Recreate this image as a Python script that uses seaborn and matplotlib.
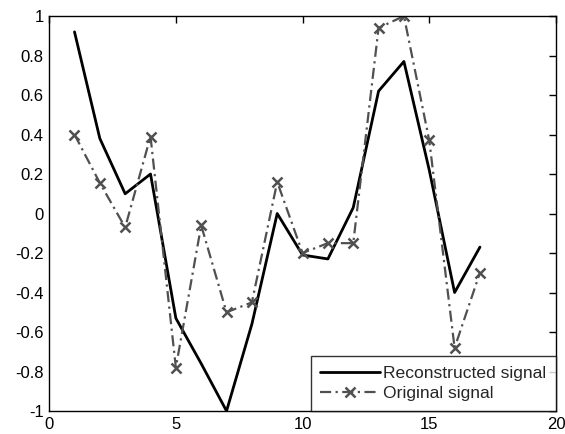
import numpy as np
import pandas as pd
import matplotlib
matplotlib.use("Agg")
import matplotlib.pyplot as plt
import seaborn as sns

# Data
samples = list(range(1, 18))
reconstructed = [0.92, 0.38, 0.10, 0.20, -0.53, -0.76, -1.00, -0.56, 0.00,
                 -0.21, -0.23, 0.03, 0.62, 0.77, 0.22, -0.40, -0.17]
original = [0.40, 0.155, -0.07, 0.39, -0.78, -0.06, -0.50, -0.45, 0.16,
            -0.20, -0.15, -0.15, 0.94, 1.00, 0.37, -0.68, -0.30]

x_ticks = [0, 5, 10, 15, 20]
y_ticks = [-1, -0.8, -0.6, -0.4, -0.2, 0, 0.2, 0.4, 0.6, 0.8, 1]
y_labels = ["-1", "-0.8", "-0.6", "-0.4", "-0.2", "0", "0.2", "0.4", "0.6", "0.8", "1"]

sns.set_style("white")
plt.rcParams["font.family"] = ["Liberation Sans", "DejaVu Sans"]

fig = plt.figure(figsize=(5.65, 4.34), dpi=100)
ax = fig.add_axes([0.087, 0.053, 0.897, 0.91])

sns.lineplot(x=samples, y=reconstructed, color="black", lw=2.0,
             label="Reconstructed signal", ax=ax)
sns.lineplot(x=samples, y=original, color="#505050", lw=1.6,
             linestyle=(0, (5, 2, 1, 2)),
             marker="x", markersize=7, markeredgewidth=1.8, markeredgecolor="#505050",
             label="Original signal", ax=ax)

ax.set_xlim(0, 20)
ax.set_ylim(-1, 1)
ax.set_xticks(x_ticks)
ax.set_yticks(y_ticks)
ax.set_yticklabels(y_labels)
ax.tick_params(direction="in", top=True, right=True, length=5, width=1,
               labelsize=12, colors="black", pad=4)
for sp in ax.spines.values():
    sp.set_visible(True)
    sp.set_color("black")
    sp.set_linewidth(1.0)

leg = ax.legend(loc="lower right", fontsize=12.6, frameon=True, fancybox=False,
                borderaxespad=0, handlelength=3.4, borderpad=0.55,
                labelspacing=0.3, handletextpad=0.2)
leg.get_frame().set_edgecolor("black")
leg.get_frame().set_linewidth(1.0)

fig.savefig("out.png", dpi=100)
